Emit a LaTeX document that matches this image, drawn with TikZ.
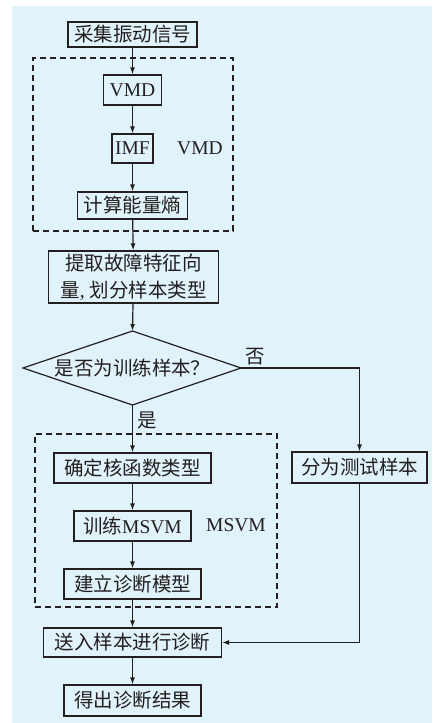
\documentclass[tikz,border=0pt]{standalone}
\usepackage{fontspec}
\setmainfont{Liberation Serif}
\newfontfamily\cjk{Noto Sans CJK SC}
\usetikzlibrary{arrows.meta}
\definecolor{bg}{HTML}{E0F2FA}
\definecolor{ink}{HTML}{231F20}
\begin{document}
\begin{tikzpicture}[x=1pt,y=-1pt, line width=1.2pt, draw=ink, text=ink,
  box/.style={draw=ink, inner sep=0pt, font=\fontsize{19.5}{27}\selectfont, align=center},
  lbl/.style={inner sep=0pt, font=\fontsize{19.5}{22}\selectfont},
  arr/.style={draw=ink, -{Latex[length=7pt,width=5pt]}},
  grp/.style={draw=ink, dash pattern=on 6pt off 4pt, line width=1.1pt, inner sep=0pt}]
\useasboundingbox (0,0) rectangle (432,723);
\fill[bg] (12,6) rectangle (432,723);
% groups
\node[grp, minimum width=200pt, minimum height=173pt] (gvmd) at (133,144.5) {};
\node[grp, minimum width=242pt, minimum height=173pt] (gmsvm) at (156,520.5) {};
\node[lbl] (lvmd) at (200,148) {VMD};
\node[lbl] (lmsvm) at (236,525) {MSVM};
% boxes
\node[box, minimum width=129pt, minimum height=25pt] (n1) at (132.5,34.5) {\cjk 采集振动信号};
\node[box, minimum width=58pt, minimum height=30pt] (vmd) at (132.5,90) {VMD};
\node[box, minimum width=41pt, minimum height=29pt] (imf) at (132.5,148.5) {IMF};
\node[box, minimum width=110pt, minimum height=27pt] (calc) at (132.5,205.5) {\cjk 计算能量熵};
\node[box, minimum width=170pt, minimum height=52pt] (ext) at (133.5,277) {{\cjk 提取故障特征向}\\{\cjk 量}, {\cjk 划分样本类型}};
% diamond
\coordinate (dT) at (132.5,331);
\coordinate (dB) at (132.5,405);
\coordinate (dL) at (23,368);
\coordinate (dR) at (241,368);
\draw (dT) -- (dR) -- (dB) -- (dL) -- cycle;
\node[lbl] (dtext) at (132.5,368) {\cjk 是否为训练样本？};
\node[lbl] (no) at (255,357) {\cjk 否};
\node[lbl] (yes) at (147.5,420) {\cjk 是};
\node[box, minimum width=157pt, minimum height=30pt] (kern) at (132.5,468) {\cjk 确定核函数类型};
\node[box, minimum width=135pt, minimum height=31pt] (test) at (359.5,467.5) {\cjk 分为测试样本};
\node[box, minimum width=117pt, minimum height=30pt] (train) at (132.5,526) {{\cjk 训练}MSVM};
\node[box, minimum width=137pt, minimum height=30pt] (build) at (132.5,584) {\cjk 建立诊断模型};
\node[box, minimum width=178pt, minimum height=29pt] (send) at (132.5,642.5) {\cjk 送入样本进行诊断};
\node[box, minimum width=137pt, minimum height=31pt] (res) at (132.5,700.5) {\cjk 得出诊断结果};
% arrows
\draw[arr] (n1) -- (vmd);
\draw[arr] (vmd) -- (imf);
\draw[arr] (imf) -- (calc);
\draw[arr] (calc) -- (ext);
\draw[arr] (ext) -- (dT);
\draw[arr] (dB) -- (kern);
\draw[arr] (kern) -- (train);
\draw[arr] (train) -- (build);
\draw[arr] (build) -- (send);
\draw[arr] (send) -- (res);
\draw[arr] (dR) -| (test.north);
\draw[arr] (test.south) |- (send.east);
\end{tikzpicture}
\end{document}
